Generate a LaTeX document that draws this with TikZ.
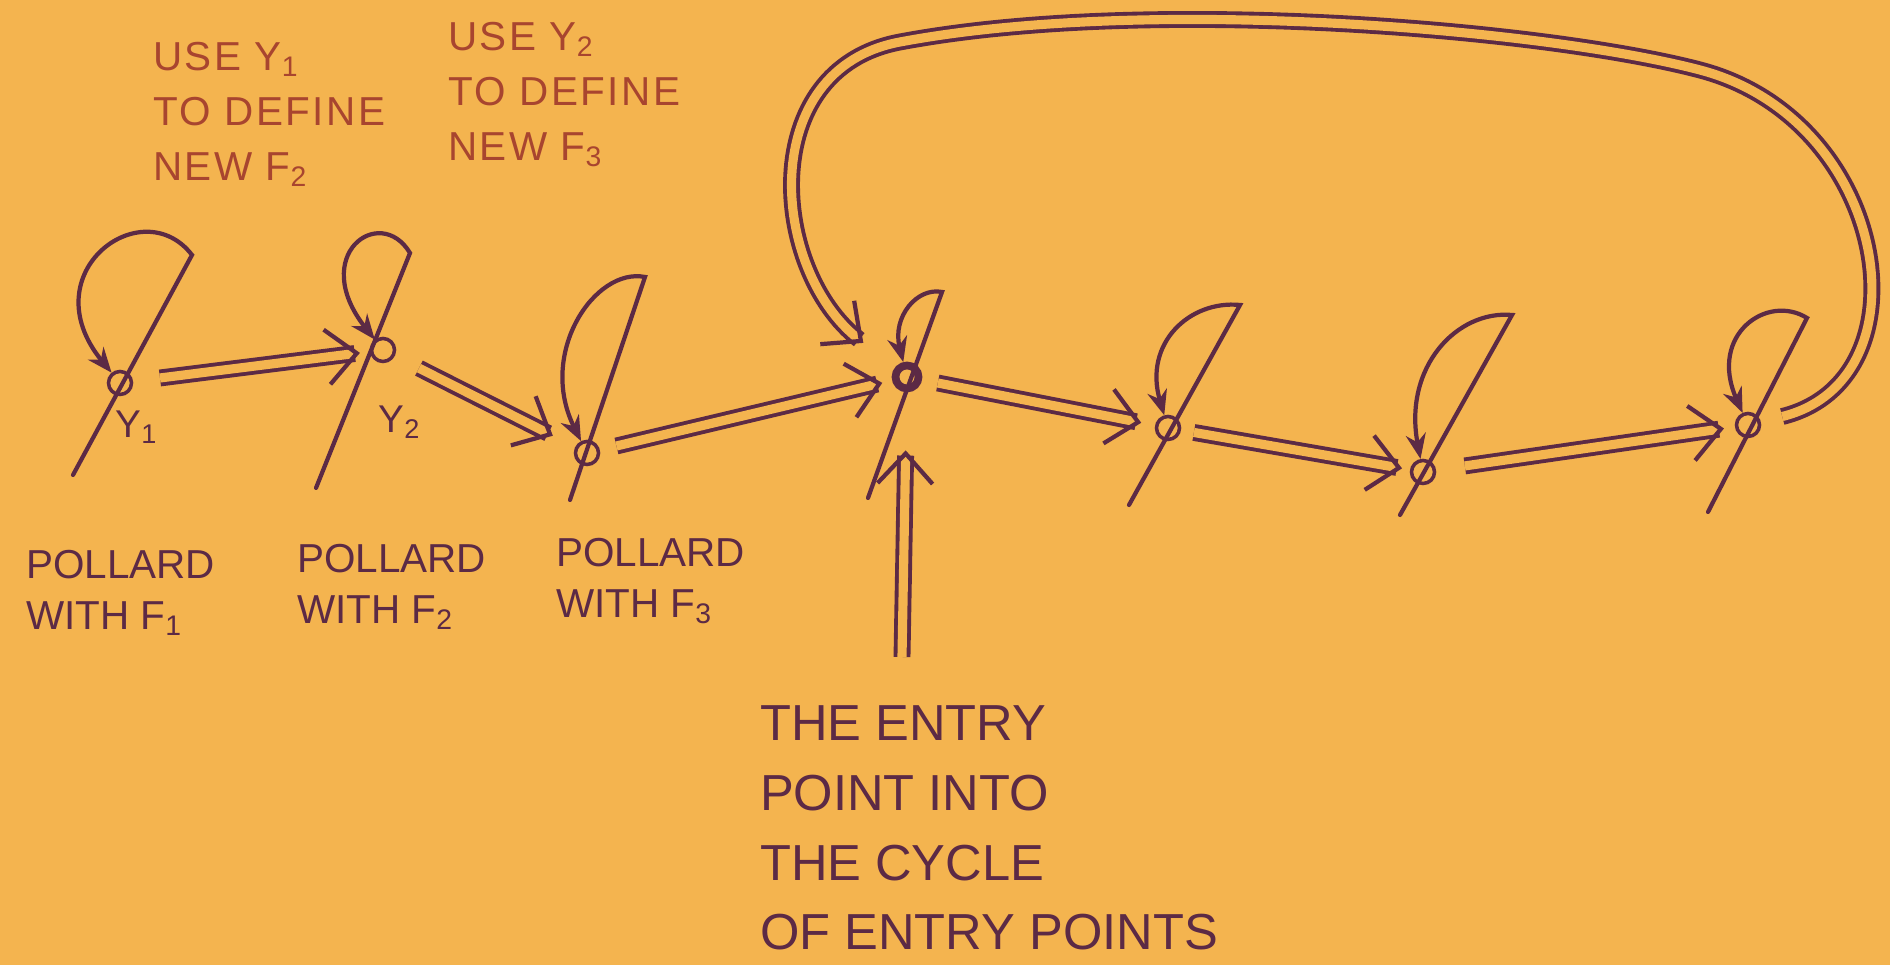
\documentclass[tikz,border=0pt]{standalone}
\usepackage{fontspec}
\setmainfont{Liberation Sans}
\usetikzlibrary{arrows.meta}

\definecolor{paper}{HTML}{F4B44F}
\definecolor{ink}{HTML}{5C2A45}
\definecolor{redink}{HTML}{A8452F}

\begin{document}
\begin{tikzpicture}[
    x=0.01cm, y=-0.01cm, color=ink, line width=1.2pt, line cap=round,
    pt/.style={circle, draw, line width=1pt, minimum size=2.3mm, inner sep=0pt},
    lp/.style={-{Stealth[length=2.5mm, width=2mm]}},
    dbl/.style={double=paper, double distance=2.6pt, line width=1.1pt, line cap=butt,
      -{Straight Barb[length=3mm, width=5.5mm, line width=1.2pt]}},
    note/.style={align=left, anchor=north west, inner sep=0pt, text=redink,
      font=\fontsize{11.5}{15.6}\selectfont\addfontfeatures{LetterSpace=6}},
    poll/.style={align=left, anchor=north west, inner sep=0pt,
      font=\fontsize{11.5}{14.5}\selectfont},
    entry/.style={align=left, anchor=north west, inner sep=0pt,
      font=\fontsize{14.4}{19.8}\selectfont},
    lab/.style={inner sep=0pt, font=\fontsize{11}{13}\selectfont}
  ]
  \fill[paper] (0,0) rectangle (1890,965);
  \useasboundingbox (0,0) rectangle (1890,965);

  \foreach \i/\rx/\ry/\tx/\ty/\bx/\by/\w in {1/120/383/192/255/73/475/1, 2/383/350/410/253/316/488/1,
      3/587/453/645/277/570/500/1, 4/907/377/942/292/868/498/2.2, 5/1168/428/1240/305/1129/505/1,
      6/1423/472/1512/315/1400/515/1, 7/1748/425/1807/318/1708/512/1} {
    \node[pt, line width=\w pt] (r\i) at (\rx,\ry) {};
    \coordinate (t\i) at (\tx,\ty);
    \coordinate (b\i) at (\bx,\by);
  }
  \foreach \i/\ax/\ay/\cx/\cy in {1/-50/-65/-90/-110, 2/-30/-50/-75/-95, 3/-50/-10/-50/-100,
      4/-25/-5/-15/-60, 5/-50/-5/-25/-85, 6/-55/-5/-20/-105, 7/-40/-25/-40/-90}
    \draw[lp] (b\i) -- (t\i) .. controls ([shift={(\ax,\ay)}]t\i) and ([shift={(\cx,\cy)}]r\i) .. (r\i);

  \node[lab] (y1) at (137,427) {Y\textsubscript{1}};
  \node[lab] (y2) at (400,422) {Y\textsubscript{2}};

  \draw[dbl, shorten <=2.7mm, shorten >=1mm] (r1) -- (r2);
  \draw[dbl, shorten <=2.7mm, shorten >=2.5mm] (r2) -- (r3);
  \draw[dbl, shorten <=1.7mm, shorten >=1mm] (r3) -- (r4);
  \draw[dbl, shorten <=1.6mm, shorten >=1.4mm] (r4) -- (r5);
  \draw[dbl, shorten <=1.3mm, shorten >=0.8mm] (r5) -- (r6);
  \draw[dbl, shorten <=2.9mm, shorten >=1.1mm] (r6) -- (r7);
  \draw[dbl, shorten <=2.2mm, shorten >=4mm] (r7) .. controls (1930,380) and (1890,120) .. (1700,70)
    .. controls (1548,30) and (1150,-5) .. (900,42) .. controls (755,69) and (770,270) .. (r4);

  \node[note] (use1) at (151,40) {USE Y\textsubscript{1}\\TO DEFINE\\NEW F\textsubscript{2}};
  \node[note] (use2) at (446,20) {USE Y\textsubscript{2}\\TO DEFINE\\NEW F\textsubscript{3}};
  \node[poll] (pol1) at (24,548) {POLLARD\\WITH F\textsubscript{1}};
  \node[poll] (pol2) at (295,542) {POLLARD\\WITH F\textsubscript{2}};
  \node[poll] (pol3) at (554,536) {POLLARD\\WITH F\textsubscript{3}};
  \node[entry] (entry) at (758,704) {THE ENTRY\\POINT INTO\\THE CYCLE\\OF ENTRY POINTS};

  \coordinate (foot) at (902,657);
  \draw[dbl, shorten >=5.8mm] (foot) -- (r4);
\end{tikzpicture}
\end{document}
